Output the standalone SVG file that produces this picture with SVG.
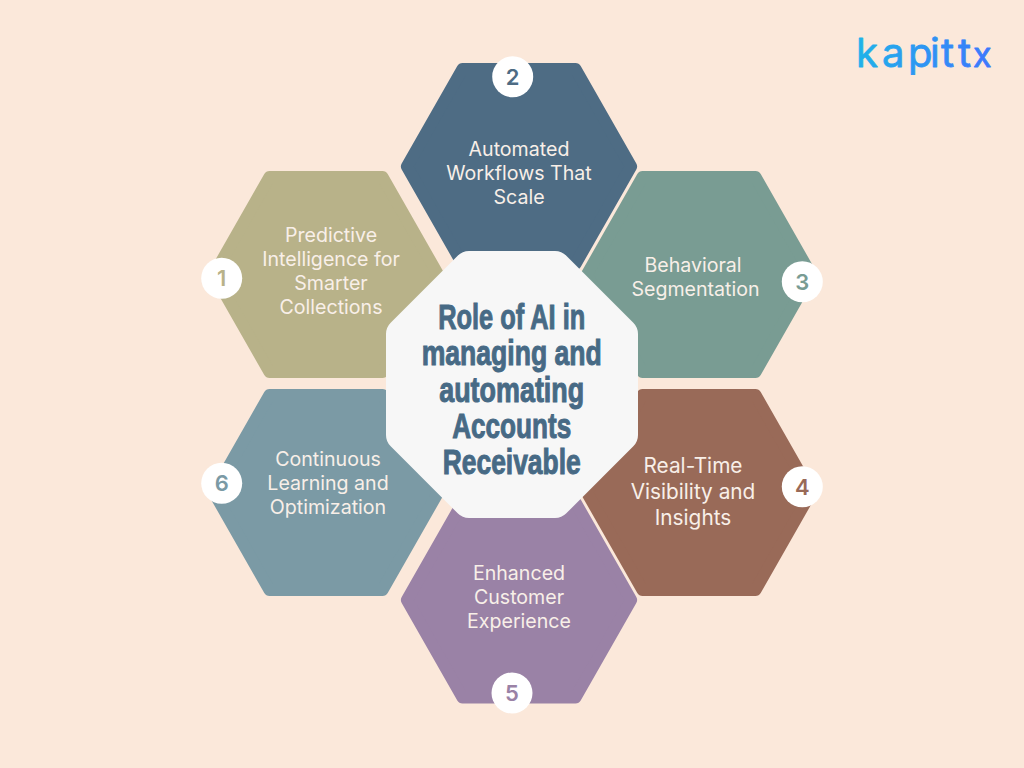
<svg xmlns="http://www.w3.org/2000/svg" width="1024" height="768" viewBox="0 0 1024 768">
<style>
.hex{stroke-width:12;stroke-linejoin:round}
.t{font-family:"Inter","Liberation Sans",sans-serif;font-size:19.6px;fill:#f8efe8;text-anchor:middle}
.n{font-family:"Inter","Liberation Sans",sans-serif;font-size:22px;font-weight:600;text-anchor:middle}
.c{font-family:"Liberation Sans",Arial,sans-serif;font-size:35px;font-weight:700;fill:#476a85;stroke:#476a85;stroke-width:1;text-anchor:middle}
.w{fill:#fff}
</style>
<defs><linearGradient id="lg" gradientUnits="userSpaceOnUse" x1="858" y1="38" x2="985" y2="72"><stop offset="0" stop-color="#1fb4e8"/><stop offset="1" stop-color="#3c78fd"/></linearGradient></defs>
<rect width="1024" height="768" fill="#fbe8da"/>
<g id="logo"><text y="66.500" font-family="Inter,'Liberation Sans',sans-serif" font-size="40" fill="url(#lg)" stroke="url(#lg)" stroke-width=".8" stroke-linejoin="round"><tspan x="856 882 908 930 941 958">kapitt</tspan><tspan x="973" font-size="34">x</tspan></text></g>
<g id="connectors"></g>
<g id="node-1"><path class="hex" fill="#b8b289" stroke="#b8b289" d="M269.500 177H382.500L438.100 274.500L382.500 372H269.500L213.900 274.500Z"/><text class="t"><tspan x="331" y="242">Predictive</tspan><tspan x="331" y="266">Intelligence for</tspan><tspan x="331" y="290">Smarter</tspan><tspan x="331" y="314">Collections</tspan></text><circle class="w" cx="221.700" cy="278.300" r="20.500"/><text class="n" x="221.700" y="286.300" fill="#b8b289">1</text></g>
<g id="node-2"><path class="hex" fill="#4e6c84" stroke="#4e6c84" d="M462.500 69H575.500L631.100 166.500L575.500 264H462.500L406.900 166.500Z"/><text class="t"><tspan x="519" y="156">Automated</tspan><tspan x="519" y="180">Workflows That</tspan><tspan x="519" y="204">Scale</tspan></text><circle class="w" cx="512.700" cy="76.700" r="20.500"/><text class="n" x="512.700" y="84.700" fill="#4e6c84">2</text></g>
<g id="node-3"><path class="hex" fill="#799c93" stroke="#799c93" d="M642.500 177H755.500L811.100 274.500L755.500 372H642.500L586.900 274.500Z"/><text class="t"><tspan x="693" y="272">Behavioral</tspan><tspan x="695.500" y="296">Segmentation</tspan></text><circle class="w" cx="802.300" cy="281.700" r="20.500"/><text class="n" x="802.300" y="289.700" fill="#799c93">3</text></g>
<g id="node-4"><path class="hex" fill="#996a58" stroke="#996a58" d="M642.500 395H755.500L811.100 492.500L755.500 590H642.500L586.900 492.500Z"/><text class="t" style="font-size:20.800px"><tspan x="693" y="473">Real-Time</tspan><tspan x="693" y="499">Visibility and</tspan><tspan x="693" y="525">Insights</tspan></text><circle class="w" cx="802.300" cy="486.700" r="20.500"/><text class="n" x="802.300" y="494.700" fill="#996a58">4</text></g>
<g id="node-5"><path class="hex" fill="#9a82a6" stroke="#9a82a6" d="M462.500 502.500H575.500L631.100 600L575.500 697.500H462.500L406.900 600Z"/><text class="t"><tspan x="519" y="580">Enhanced</tspan><tspan x="519" y="604">Customer</tspan><tspan x="519" y="628">Experience</tspan></text><circle class="w" cx="512" cy="693" r="20.500"/><text class="n" x="512" y="701" fill="#9a82a6">5</text></g>
<g id="node-6"><path class="hex" fill="#7b9aa5" stroke="#7b9aa5" d="M269.500 395H382.500L438.100 492.500L382.500 590H269.500L213.900 492.500Z"/><text class="t"><tspan x="328" y="466">Continuous</tspan><tspan x="328" y="490">Learning and</tspan><tspan x="328" y="514">Optimization</tspan></text><circle class="w" cx="221.700" cy="483.300" r="20.500"/><text class="n" x="221.700" y="491.300" fill="#7b9aa5">6</text></g>
<g id="center"><path fill="#f7f7f7" stroke="#f7f7f7" stroke-width="32" stroke-linejoin="round" d="M469 267H555L622 334V435L555 502H469L402 435V334Z"/>
<text class="c" x="511.700" y="329" textLength="147" lengthAdjust="spacingAndGlyphs">Role of AI in</text>
<text class="c" x="511.700" y="365" textLength="180" lengthAdjust="spacingAndGlyphs">managing and</text>
<text class="c" x="511.700" y="401.500" textLength="145" lengthAdjust="spacingAndGlyphs">automating</text>
<text class="c" x="511.700" y="438" textLength="119" lengthAdjust="spacingAndGlyphs">Accounts</text>
<text class="c" x="511.700" y="473.500" textLength="138" lengthAdjust="spacingAndGlyphs">Receivable</text></g>
</svg>
